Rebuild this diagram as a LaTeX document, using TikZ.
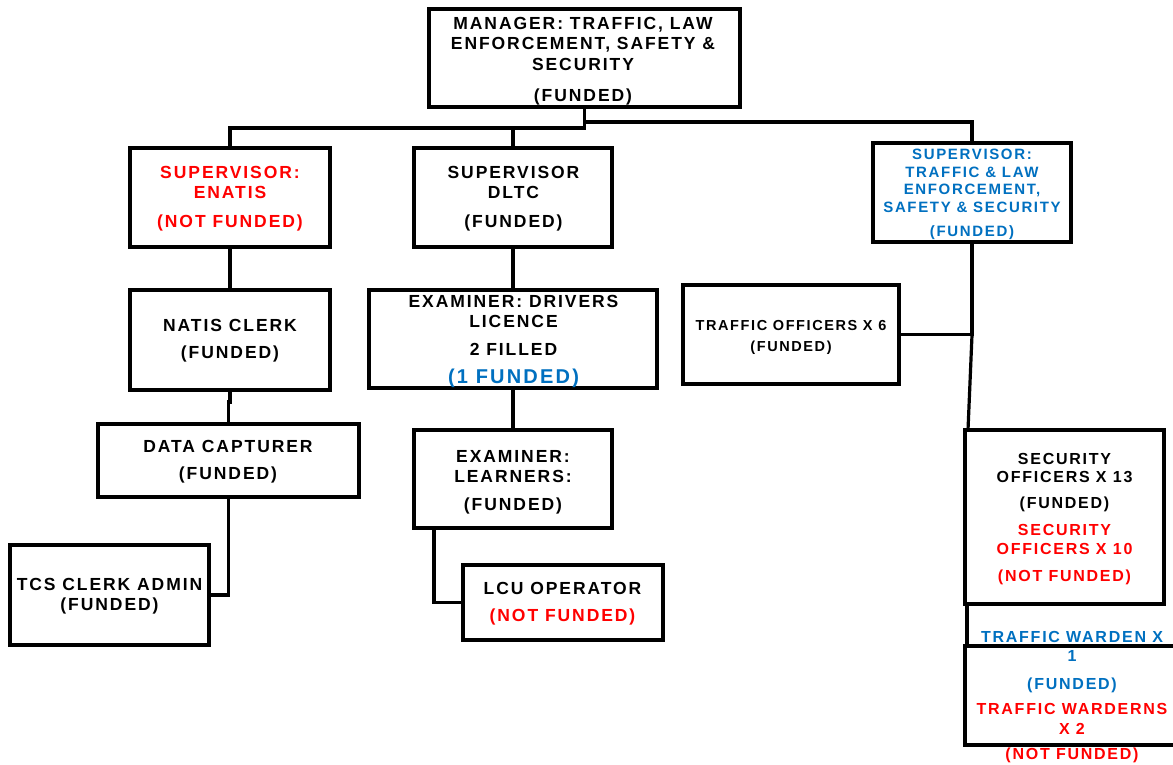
\documentclass[tikz,border=0pt]{standalone}
\usepackage{fontspec}
\setmainfont{Liberation Sans Bold}[LetterSpace=11]
\usetikzlibrary{calc}
\definecolor{fundblue}{RGB}{0,112,192}
\definecolor{nfred}{RGB}{255,0,0}
\newcommand\fsz[2]{\fontsize{#1}{#2}\selectfont}
\tikzset{
  box/.style={draw, rectangle, line width=3.2pt, inner sep=0pt, outer sep=0pt},
  txt/.style={align=center, inner sep=0pt, font=\fsz{17.5}{20.5}},
  link/.style={line width=3.2pt, line join=miter},
}
\begin{document}
\begin{tikzpicture}[x=1pt, y=-1pt]
\fill[white] (0,0) rectangle (1173,764);
\useasboundingbox (0,0) rectangle (1173,764);

% position boxes
\node[box, minimum width=311, minimum height=98] (mgr)    at (584.5,58)   {};
\node[box, minimum width=200, minimum height=99] (enatis) at (230,197.5)  {};
\node[box, minimum width=198, minimum height=99] (dltc)   at (513,197.5)  {};
\node[box, minimum width=198, minimum height=99] (suptr)  at (972,192.5)  {};
\node[box, minimum width=200, minimum height=100] (natis) at (230,340)    {};
\node[box, minimum width=288, minimum height=98] (exdl)   at (513,339)    {};
\node[box, minimum width=216, minimum height=99] (toff)   at (791,334.5)  {};
\node[box, minimum width=261, minimum height=73] (data)   at (228.5,460.5){};
\node[box, minimum width=199, minimum height=100] (tcs)   at (109.5,595)  {};
\node[box, minimum width=198, minimum height=98] (learn)  at (513,479)    {};
\node[box, minimum width=200, minimum height=75] (lcu)    at (563,602.5)  {};
\node[box, minimum width=199, minimum height=174] (sec)   at (1064.5,517) {};
\node[box, minimum width=214, minimum height=99] (ward)   at (1072,695.5) {};

% reporting lines
\draw[link] (mgr.south) -- ++(0,21) -| (enatis.north);
\draw[link] (dltc.north) -- ++(0,-20);
\draw[link] ($(mgr.south)+(0,15)$) -| (suptr.north);
\draw[link] (enatis.south) -- (natis.north);
\draw[link] (natis.south) -- ++(0,12) -| (data.north);
\draw[link] (data.south) |- (tcs.east);
\draw[link] (dltc.south) -- (exdl.north);
\draw[link] (exdl.south) -- (learn.north);
\draw[link] ($(learn.south west)+(20,0)$) |- (lcu.west);
\draw[link] (suptr.south) |- (toff.east);
\draw[link] (suptr.south) -- ++(0,93) -- ($(sec.north west)+(3,0)$);
\draw[link] ($(sec.south west)+(2,0)$) -- ($(ward.north west)+(2,0)$);

% titles
\node[txt] (tmgr) at (583,60.8)
  {MANAGER: TRAFFIC, LAW\\ENFORCEMENT, SAFETY \&\\SECURITY\\[10.5pt](FUNDED)};
\node[txt, text=nfred, font=\fsz{17.5}{20}] (tenatis) at (230,199)
  {SUPERVISOR:\\ENATIS\\[9pt](NOT FUNDED)};
\node[txt, font=\fsz{17.5}{20}] (tdltc) at (513.5,199)
  {SUPERVISOR\\DLTC\\[9pt](FUNDED)};
\node[txt, text=fundblue, font=\fsz{15}{17.5}] (tsuptr) at (972,194.5)
  {SUPERVISOR:\\TRAFFIC \& LAW\\ENFORCEMENT,\\SAFETY \& SECURITY\\[6.5pt](FUNDED)};
\node[txt, font=\fsz{17.5}{20}] (tnatis) at (230,341)
  {NATIS CLERK\\[7pt](FUNDED)};
\node[txt, font=\fsz{17.5}{20}] (texdl) at (513.5,341)
  {EXAMINER: DRIVERS\\LICENCE\\[8pt]2 FILLED\\[8pt]\textcolor{fundblue}{\fsz{20}{20}(1 FUNDED)}};
\node[txt, font=\fsz{14.5}{21}] (ttoff) at (791,337)
  {TRAFFIC OFFICERS X 6\\(FUNDED)};
\node[txt, font=\fsz{17.5}{20}] (tdata) at (228,462)
  {DATA CAPTURER\\[7pt](FUNDED)};
\node[txt, font=\fsz{17.5}{20}] (ttcs) at (109.5,596)
  {TCS CLERK ADMIN\\(FUNDED)};
\node[txt, font=\fsz{17.5}{20}] (tlearn) at (513,482)
  {EXAMINER:\\LEARNERS:\\[8pt](FUNDED)};
\node[txt, font=\fsz{17.5}{20}] (tlcu) at (562.5,604)
  {LCU OPERATOR\\[7pt]\textcolor{nfred}{(NOT FUNDED)}};
\node[txt, font=\fsz{16}{18.5}] (tsec) at (1064.5,519)
  {SECURITY\\OFFICERS X 13\\[7.5pt](FUNDED)\\[8.5pt]\textcolor{nfred}{SECURITY}\\
   \textcolor{nfred}{OFFICERS X 10}\\[8.5pt]\textcolor{nfred}{(NOT FUNDED)}};
\node[txt, font=\fsz{16}{18.5}] (tward) at (1072,697)
  {\textcolor{fundblue}{TRAFFIC WARDEN X}\\\textcolor{fundblue}{1}\\[9.5pt]
   \textcolor{fundblue}{(FUNDED)}\\[6.5pt]\textcolor{nfred}{TRAFFIC WARDERNS}\\[1.5pt]
   \textcolor{nfred}{X 2}\\[6.5pt]\textcolor{nfred}{(NOT FUNDED)}};
\end{tikzpicture}
\end{document}
